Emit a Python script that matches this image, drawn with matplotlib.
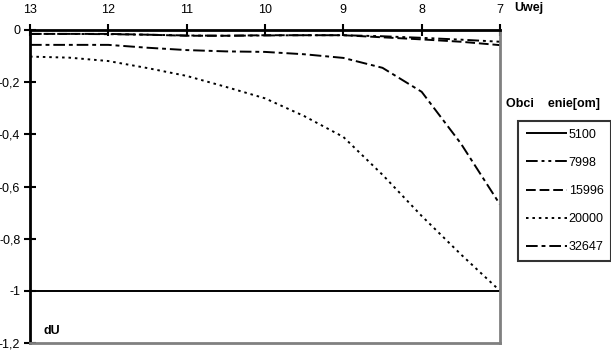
import matplotlib
matplotlib.use("Agg")
import matplotlib.pyplot as plt
from matplotlib.ticker import FuncFormatter

# input voltage (Uwej), read at half-volt steps
uwej = [13, 12.5, 12, 11.5, 11, 10.5, 10, 9.5, 9, 8.5, 8, 7.5, 7]

# dU for each load resistance (ohm)
du_5100 = [-1.0] * 13
du_7998 = [-0.015, -0.015, -0.016, -0.018, -0.021, -0.022, -0.021, -0.020, -0.020, -0.024, -0.030, -0.037, -0.045]
du_15996 = [-0.015, -0.015, -0.015, -0.018, -0.022, -0.022, -0.020, -0.020, -0.020, -0.028, -0.036, -0.045, -0.058]
du_20000 = [-0.102, -0.106, -0.119, -0.146, -0.176, -0.218, -0.262, -0.330, -0.410, -0.555, -0.713, -0.860, -1.0]
du_32647 = [-0.057, -0.057, -0.057, -0.068, -0.077, -0.082, -0.084, -0.093, -0.107, -0.145, -0.237, -0.435, -0.669]

series = [
    ("5100", du_5100, "solid"),
    ("7998", du_7998, (0, (6, 2, 1.5, 2, 1.5, 2))),
    ("15996", du_15996, (0, (5, 2))),
    ("20000", du_20000, (0, (1.3, 2))),
    ("32647", du_32647, (0, (6, 2, 2, 2))),
]

yticks = [0, -0.2, -0.4, -0.6, -0.8, -1.0, -1.2]
xticks = [13, 12, 11, 10, 9, 8, 7]

plt.rcParams["font.family"] = ["Liberation Sans", "DejaVu Sans"]
plt.rcParams["font.size"] = 9

W, H = 611, 354
fig = plt.figure(figsize=(W / 100, H / 100), dpi=100)
ax = fig.add_axes([30 / W, 1 - 343 / H, 470 / W, 313 / H])

for label, values, ls in series:
    ax.plot(uwej, values, color="black", linestyle=ls, linewidth=1.4, label=label,
            solid_capstyle="butt", dash_capstyle="butt", clip_on=False)

ax.set_xlim(13, 7)
ax.set_ylim(-1.2, 0)
ax.set_xticks(xticks)
ax.set_yticks(yticks)
ax.xaxis.tick_top()
ax.xaxis.set_major_formatter(FuncFormatter(lambda v, _: f"{v:g}"))
ax.yaxis.set_major_formatter(FuncFormatter(lambda v, _: f"{v:g}".replace(".", ",") if v != 0 else "0"))
ax.tick_params(axis="x", direction="inout", length=8, width=1.5, pad=6, labelsize=9)
ax.tick_params(axis="y", direction="inout", length=8, width=1.5, pad=3, labelsize=9)

ax.spines["left"].set_linewidth(2)
ax.spines["top"].set_linewidth(2)
ax.spines["left"].set_color("black")
ax.spines["top"].set_color("black")
ax.spines["right"].set_color("#808080")
ax.spines["bottom"].set_color("#808080")
ax.spines["right"].set_linewidth(2)
ax.spines["bottom"].set_linewidth(2)

fig.text(514 / W, 1 - 8 / H, "Uwej", fontsize=9, fontweight="bold", va="center", ha="left")
fig.text(43 / W, 1 - 331 / H, "dU", fontsize=9, fontweight="bold", va="center", ha="left")
fig.text(506 / W, 1 - 104 / H, "Obci    enie[om]", fontsize=9, fontweight="bold", va="center", ha="left")

leg = fig.legend(loc="upper left", bbox_to_anchor=(518 / W, 1 - 121 / H), frameon=True,
                 fancybox=False, fontsize=9, handlelength=3.3, handletextpad=0.15,
                 labelspacing=1.3, borderpad=0.6, borderaxespad=0)
leg.get_frame().set_edgecolor("black")
leg.get_frame().set_linewidth(1.5)

fig.savefig("out.png", dpi=100, facecolor="white")
